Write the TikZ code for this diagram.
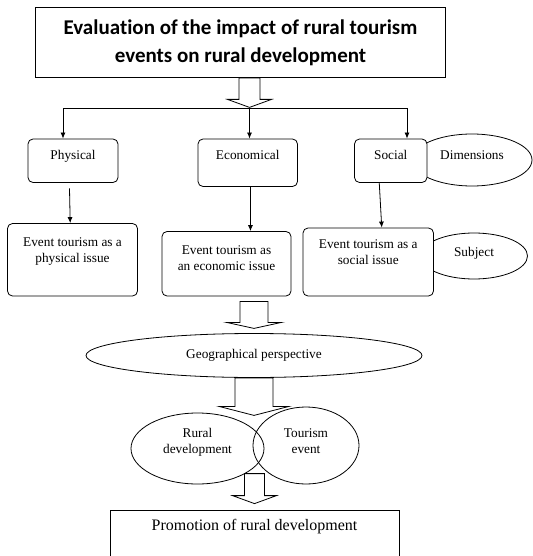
\documentclass[tikz,border=0pt]{standalone}
\usepackage{fontspec}
\setmainfont{Liberation Serif}
\newfontfamily\headfont[Ligatures=NoCommon]{Carlito}
\usetikzlibrary{shapes.geometric,arrows.meta}

\tikzset{
  headbox/.style={draw,align=center,inner sep=0pt,font=\fontsize{21}{28}\headfont\bfseries},
  dimbox/.style={draw,fill=white,rounded corners=5pt,align=center,inner sep=0pt,text height=9pt},
  twoline/.style={text height=25pt},
  oval/.style={draw,ellipse,align=center,inner sep=0pt,text height=9pt},
  endbox/.style={draw,align=center,inner sep=0pt,font=\fontsize{16}{19}\selectfont,text height=11pt}
}

\begin{document}
\begin{tikzpicture}[x=1pt,y=-1pt,line width=0.8pt,>={Latex[length=6pt,width=5pt]},font=\fontsize{13.3}{16}\selectfont]
\useasboundingbox (0,0) rectangle (532,556);
% Heading
\node[headbox,minimum width=410pt,minimum height=70pt] (title) at (240.5,42.5) {Evaluation of the impact of rural tourism\\events on rural development};
% Side ellipses (drawn first, the boxes cover their left ends)
\node[oval,minimum width=120pt,minimum height=52pt,text depth=10.2pt] (dims) at (472,160) {Dimensions};
\node[oval,minimum width=107pt,minimum height=46pt,text depth=8pt] (subj) at (474,256) {Subject};
% Dimensions
\node[dimbox,minimum width=90pt,minimum height=43.5pt,text depth=10.9pt] (physical) at (73,160.75) {Physical};
\node[dimbox,minimum width=99.5pt,minimum height=47.5pt,text depth=14.9pt] (economical) at (247.75,162.75) {Economical};
\node[dimbox,minimum width=72.5pt,minimum height=43.5pt,text depth=10.9pt] (social) at (390.75,160.75) {Social};
% Subjects
\node[dimbox,twoline,minimum width=130pt,minimum height=72.5pt,text depth=19.7pt] (evphys) at (72.5,259.75) {Event tourism as a\\physical issue};
\node[dimbox,twoline,minimum width=129pt,minimum height=64.5pt,text depth=12.5pt] (eveco) at (226.5,263.75) {Event tourism as\\an economic issue};
\node[dimbox,twoline,minimum width=130.5pt,minimum height=68pt,text depth=19.2pt] (evsoc) at (368.25,262) {Event tourism as a\\social issue};
% Perspective and result
\node[oval,minimum width=336pt,minimum height=44pt,text depth=3pt] (geo) at (254,355.5) {Geographical perspective};
\node[oval,twoline,minimum width=133pt,minimum height=71pt,text depth=15.2pt] (rural) at (197.5,448.5) {Rural\\development};
\node[oval,twoline,minimum width=106pt,minimum height=77pt,text depth=9.2pt] (tourism) at (306,445.5) {Tourism\\event};
\node[endbox,minimum width=289pt,minimum height=48pt,text depth=18.4pt] (promo) at (254.5,534) {Promotion of rural development};
% Branching
\coordinate (split) at (249.5,108.5);
\draw[->] (split) -| ([xshift=-10pt]physical.north);
\draw[->] (split) -- (split |- economical.north);
\draw[->] (split) -| ([xshift=16.25pt]social.north);
\draw[->] ([xshift=-3.5pt,yshift=-5.5pt]physical.south) -- ([xshift=-2.3pt]evphys.north);
\draw[->] ([xshift=2.7pt]economical.south) -- ([xshift=2.7pt]economical.south |- eveco.north);
\draw[->] ([xshift=-11.5pt]social.south) -- ([xshift=13.5pt]evsoc.north);
% Hollow arrows
\coordinate (a2) at ([yshift=-5pt]geo.north |- eveco.south);
\coordinate (a4) at ([yshift=36pt]promo.north);
\draw (title.south -| split) ++(-10.5,0) -- ++(0,21.5) -- ++(-11.5,0) -- ++(22,8) -- ++(22,-8) -- ++(-11.5,0) -- ++(0,-21.5) -- cycle;
\draw (a2) ++(-14,0) -- ++(0,21) -- ++(-13.5,0) -- ++(27.5,6) -- ++(27.5,-6) -- ++(-13.5,0) -- ++(0,-21) -- cycle;
\draw (geo.south) ++(-19,0) -- ++(0,28.5) -- ++(-16,0) -- ++(35,9) -- ++(35,-9) -- ++(-16,0) -- ++(0,-28.5) -- cycle;
\draw (a4) ++(-10,0) -- ++(0,22) -- ++(-12,0) -- ++(22,8) -- ++(22,-8) -- ++(-12,0) -- ++(0,-22) -- cycle;
\end{tikzpicture}
\end{document}
